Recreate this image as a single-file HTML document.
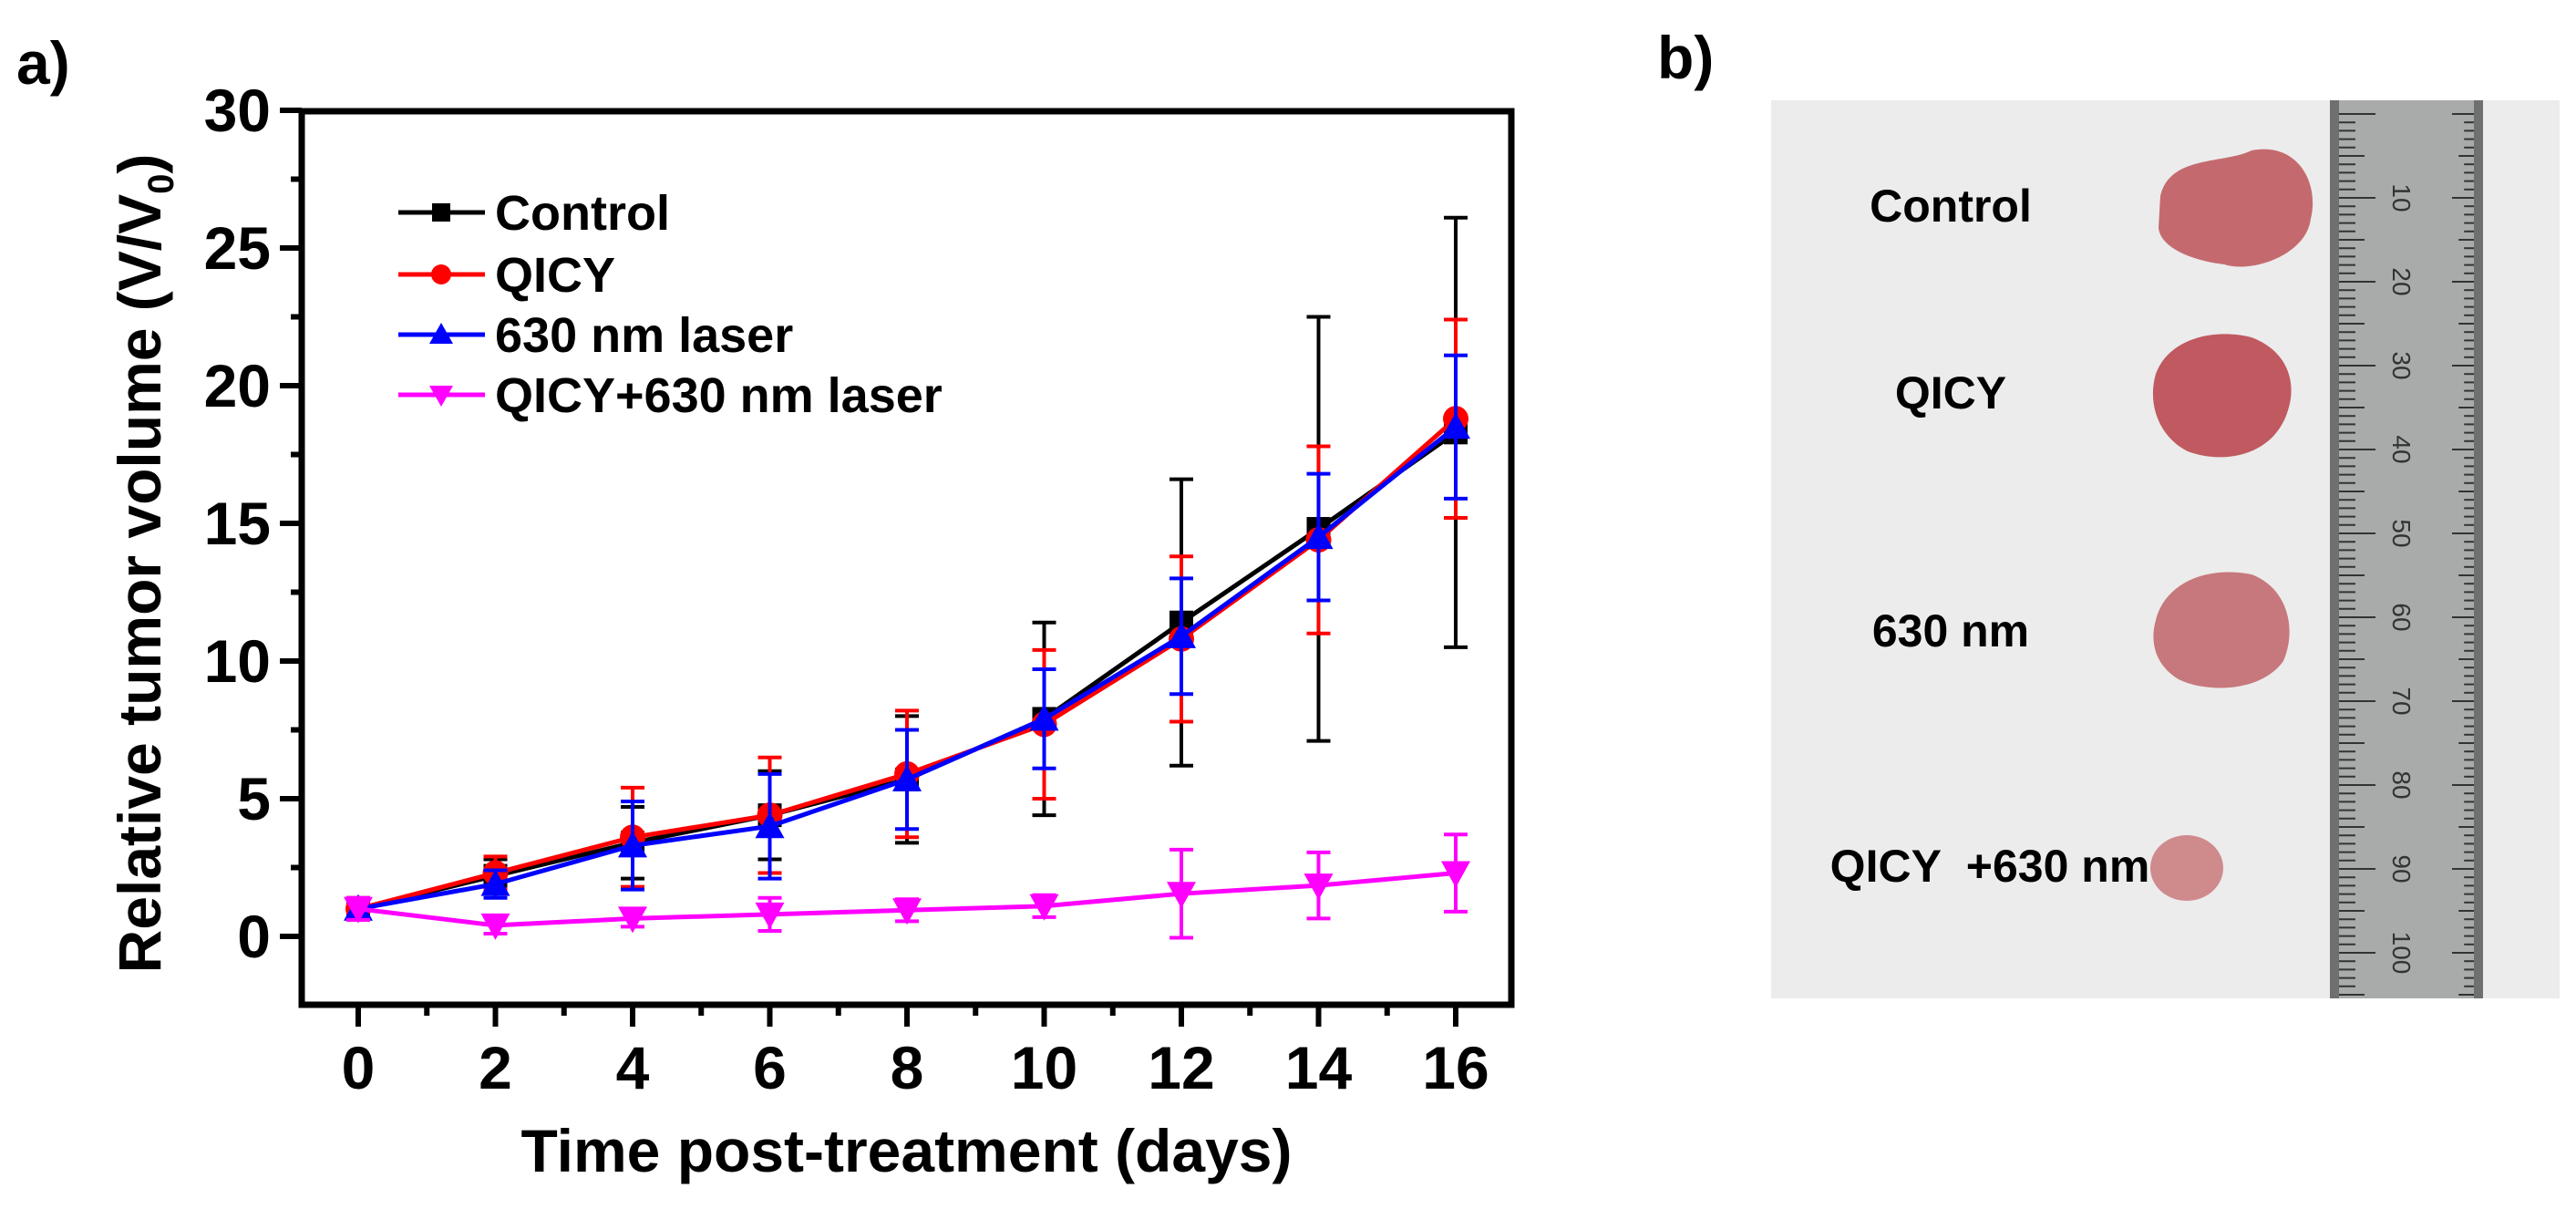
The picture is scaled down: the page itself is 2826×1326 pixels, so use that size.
<!DOCTYPE html>
<html><head><meta charset="utf-8">
<style>
html,body{margin:0;padding:0;background:#fff;width:2826px;height:1326px;overflow:hidden}
svg{display:block}
text{font-family:"Liberation Sans",Arial,sans-serif;font-weight:bold;fill:#000}
</style></head>
<body>
<svg id="fig" width="2826" height="1326" viewBox="0 0 2826 1326" xmlns="http://www.w3.org/2000/svg">
  <text x="18" y="92" font-size="66">a)</text>
  <text x="1818" y="86" font-size="66">b)</text>
  <g id="chart"></g>
  <g id="photo">
    <rect x="1943" y="110" width="865" height="985" fill="#ececec"/>
    <text x="2140" y="243" font-size="50" text-anchor="middle">Control</text>
    <text x="2140" y="448" font-size="50" text-anchor="middle">QICY</text>
    <text x="2140" y="709" font-size="50" text-anchor="middle">630 nm</text>
    <text x="2183" y="967" font-size="50" text-anchor="middle" xml:space="preserve">QICY  +630 nm</text>
    <path d="M2370,215 C2380,170 2440,180 2470,165 C2520,155 2545,200 2535,240 C2530,280 2470,300 2440,290 C2400,285 2370,270 2368,250 Z" fill="#c46a6e"/>
    <path d="M2365,410 C2380,370 2430,360 2470,370 C2510,385 2520,420 2510,450 C2495,500 2440,510 2400,495 C2370,480 2355,445 2365,410 Z" fill="#c05a60"/>
    <path d="M2365,680 C2375,640 2420,620 2470,630 C2510,645 2520,690 2505,725 C2480,760 2420,760 2390,745 C2365,730 2358,705 2365,680 Z" fill="#c7787c"/>
    <ellipse cx="2399" cy="952" rx="40" ry="36" fill="#cf8a8c"/>
    <rect x="2556" y="110" width="168" height="985" fill="#a9abab"/>
    <rect x="2556" y="110" width="10" height="985" fill="#6e7070"/>
    <rect x="2714" y="110" width="10" height="985" fill="#6e7070"/>
    <g id="rulerTicks"></g>
  </g>
</svg>
<script>
const days = [0,2,4,6,8,10,12,14,16];
const seriesNames = ["Control","QICY","630 nm laser","QICY+630 nm laser"];
const controlVals = [1.0,2.2,3.4,4.4,5.7,7.9,11.4,14.8,18.3];
const controlErr  = [0.3,0.6,1.3,1.6,2.3,3.5,5.2,7.7,7.8];
const qicyVals = [1.0,2.3,3.6,4.4,5.9,7.7,10.8,14.4,18.8];
const qicyErr  = [0.4,0.6,1.8,2.1,2.3,2.7,3.0,3.4,3.6];
const laserVals = [1.0,1.9,3.3,4.0,5.7,7.9,10.9,14.5,18.5];
const laserErr  = [0.3,0.5,1.6,1.9,1.8,1.8,2.1,2.3,2.6];
const comboVals = [1.0,0.4,0.65,0.8,0.95,1.1,1.55,1.85,2.3];
const comboErr  = [0.4,0.3,0.3,0.6,0.4,0.4,1.6,1.2,1.4];
const yTicks = [0,5,10,15,20,25,30];
const xTicks = [0,2,4,6,8,10,12,14,16];

const NS="http://www.w3.org/2000/svg";
const L=331,R=1658,T=122,B=1102;
const X0=393,X16=1597, Y0=1027,Y30=121;
function sx(v){return X0+(X16-X0)*v/16;}
function sy(v){return Y0+(Y30-Y0)*v/30;}
const g=document.getElementById('chart');
function el(tag,attrs,parent){const e=document.createElementNS(NS,tag);for(const k in attrs)e.setAttribute(k,attrs[k]);(parent||g).appendChild(e);return e;}

// ticks
for(let v=0;v<=30;v+=2.5){
  const major=(v%5===0);
  const t=el('line',{x1:L-(major?24:12),x2:L,y1:sy(v),y2:sy(v),stroke:'#000','stroke-width':6});
  
  
}
yTicks.forEach(v=>{
  const t=el('text',{x:L-34,y:sy(v)+23,'font-size':66,'text-anchor':'end'});
  t.textContent=v;
  
  
});
for(let d=0;d<=16;d++){
  const major=(d%2===0);
  const t=el('line',{x1:sx(d),x2:sx(d),y1:B,y2:B+(major?24:12),stroke:'#000','stroke-width':6});
  
  
}
xTicks.forEach(v=>{
  const t=el('text',{x:sx(v),y:B+92,'font-size':66,'text-anchor':'middle'});
  t.textContent=v;
  
  
});
const frame=el('rect',{x:L,y:T,width:R-L,height:B-T,fill:'none',stroke:'#000','stroke-width':7});



const xt=el('text',{x:(L+R)/2,y:1285,'font-size':66,'text-anchor':'middle'});
xt.textContent='Time post-treatment (days)';


const yt=el('text',{x:0,y:0,'font-size':66,'text-anchor':'middle',transform:'translate(176,618) rotate(-90)'});
yt.innerHTML='Relative tumor volume (V/V<tspan font-size="40" dy="14">0</tspan><tspan dy="-14">)</tspan>';



function marker(kind,cx,cy,color,parent,s){
  s=s||13;
  let m;
  if(kind==='square') m=el('rect',{x:cx-s,y:cy-s,width:2*s,height:2*s,fill:color},parent);
  else if(kind==='circle') m=el('circle',{cx:cx,cy:cy,r:s+1,fill:color},parent);
  else if(kind==='up') m=el('polygon',{points:`${cx},${cy-s-3} ${cx-s-3},${cy+s} ${cx+s+3},${cy+s}`,fill:color},parent);
  else m=el('polygon',{points:`${cx},${cy+s+3} ${cx-s-3},${cy-s} ${cx+s+3},${cy-s}`,fill:color},parent);
  return m;
}
const defs=[
  {vals:controlVals,err:controlErr,color:'#000',kind:'square',name:'control'},
  {vals:qicyVals,err:qicyErr,color:'#ff0000',kind:'circle',name:'qicy'},
  {vals:laserVals,err:laserErr,color:'#0000ff',kind:'up',name:'laser'},
  {vals:comboVals,err:comboErr,color:'#ff00ff',kind:'down',name:'qicy-laser'}
];
defs.forEach(d=>{
  const sg=el('g',{});
  
  
  d.vals.forEach((v,i)=>{
    const x=sx(days[i]),hi=sy(v+d.err[i]),lo=sy(v-d.err[i]);
    const e=el('path',{d:`M${x},${hi}V${lo}M${x-13},${hi}H${x+13}M${x-13},${lo}H${x+13}`,stroke:d.color,'stroke-width':4,fill:'none'},sg);
    
    
  });
  const p=el('polyline',{points:d.vals.map((v,i)=>sx(days[i])+','+sy(v)).join(' '),stroke:d.color,'stroke-width':5,fill:'none'},sg);
  
  
  d.vals.forEach((v,i)=>{
    const m=marker(d.kind,sx(days[i]),sy(v),d.color,sg);
    
    
  });
});
// legend
const lg=el('g',{});


const legY=[233,301,367,433];
defs.forEach((d,i)=>{
  const eg=el('g',{},lg);
  
  
  el('line',{x1:437,x2:532,y1:legY[i],y2:legY[i],stroke:d.color,'stroke-width':5},eg);
  marker(d.kind,484,legY[i],d.color,eg,10);
  const t=el('text',{x:543,y:legY[i]+19,'font-size':54},eg);
  t.textContent=seriesNames[i];
});
// ruler ticks
const rt=document.getElementById('rulerTicks');
for(let i=0;i<=105;i++){
  const y=125+i*9.2;
  const len=(i%10===0)?40:(i%5===0?28:18);
  el('line',{x1:2566,x2:2566+len,y1:y,y2:y,stroke:'#333','stroke-width':2},rt);
  el('line',{x1:2714-len*0.6,x2:2714,y1:y,y2:y,stroke:'#333','stroke-width':2},rt);
  if(i%10===0&&i>0){
    const t=el('text',{x:0,y:0,'font-size':28,'font-weight':'normal',transform:`translate(2625,${y}) rotate(90)`,'text-anchor':'middle',fill:'#333'},rt);
    t.setAttribute('style','font-weight:normal;fill:#333');
    t.textContent=i;
  }
}
</script>
</body></html>
